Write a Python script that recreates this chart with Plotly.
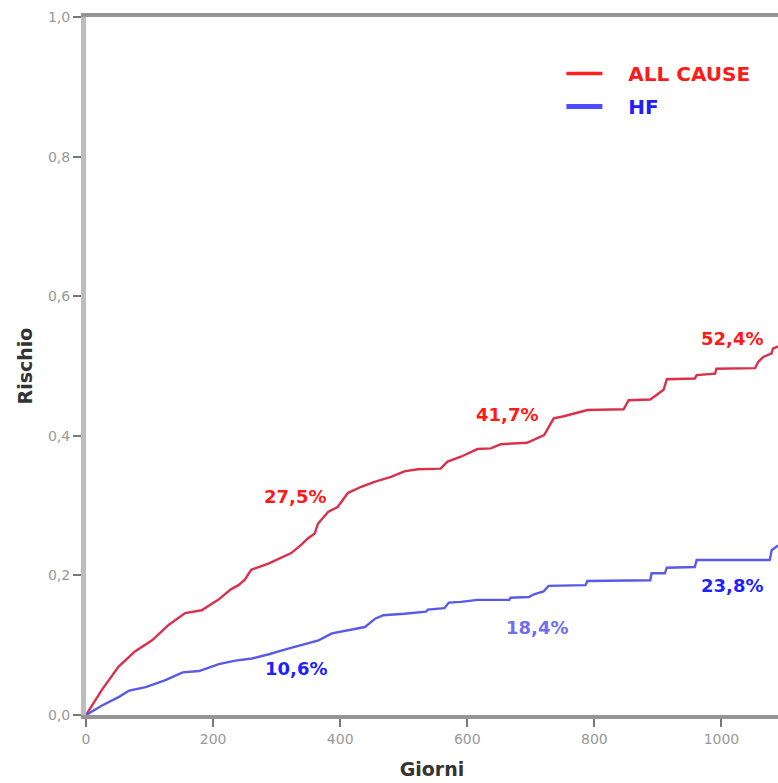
import plotly.graph_objects as go

# ---- data ----
all_days = [0, 25, 51, 77, 104, 130, 156, 182, 208, 228, 240, 250, 260, 287, 323, 339, 349, 360, 365, 381, 396,
            412, 433, 454, 480, 501, 522, 558, 569, 590, 616, 637, 653, 694, 721, 736, 752, 789, 846,
            854, 888, 909, 914, 958, 961, 990, 992, 1053, 1058, 1066, 1079, 1081, 1089]
all_risk = [0, 0.036, 0.069, 0.091, 0.107, 0.129, 0.146, 0.150, 0.165, 0.180, 0.186, 0.194, 0.208, 0.217, 0.232,
            0.244, 0.253, 0.260, 0.274, 0.291, 0.298, 0.318, 0.327, 0.334, 0.341, 0.349, 0.352, 0.353,
            0.363, 0.370, 0.381, 0.382, 0.388, 0.390, 0.401, 0.425, 0.428, 0.437, 0.438, 0.451, 0.452,
            0.466, 0.481, 0.482, 0.487, 0.489, 0.496, 0.497, 0.506, 0.513, 0.518, 0.525, 0.528]

hf_days = [0, 26, 52, 68, 94, 125, 152, 178, 209, 235, 261, 288, 314, 340, 366, 387, 418, 439, 455,
           468, 501, 535, 538, 564, 571, 590, 616, 666, 668, 697, 705, 720, 728, 786, 789, 888, 890,
           911, 914, 958, 961, 1076, 1079, 1089]
hf_risk = [0, 0.014, 0.026, 0.035, 0.040, 0.050, 0.061, 0.063, 0.073, 0.078, 0.081, 0.087, 0.094,
           0.100, 0.107, 0.117, 0.122, 0.126, 0.138, 0.143, 0.145, 0.148, 0.151, 0.153, 0.161, 0.162,
           0.165, 0.165, 0.168, 0.169, 0.173, 0.177, 0.185, 0.186, 0.192, 0.193, 0.203, 0.203, 0.211,
           0.212, 0.222, 0.222, 0.236, 0.243]

series_names = ["ALL CAUSE", "HF"]

label_texts = ["27,5%", "41,7%", "52,4%", "10,6%", "18,4%", "23,8%"]
label_x = [329, 662, 1016, 331, 709, 1017]
label_y = [0.313, 0.430, 0.540, 0.066, 0.126, 0.185]
label_colors = ["#ff1a1a", "#ff1a1a", "#ff1a1a", "#1f1fff", "#6f6ff2", "#1f1fff"]

x_ticks = [0, 200, 400, 600, 800, 1000]
y_ticks = [0.0, 0.2, 0.4, 0.6, 0.8, 1.0]

RED = "#d9304c"
BLUE = "#5a5ae8"
PAD = "&nbsp;&nbsp;&nbsp;"

fig = go.Figure()
fig.add_trace(go.Scatter(x=all_days, y=all_risk, mode="lines",
                         line=dict(color=RED, width=2.4), showlegend=False))
fig.add_trace(go.Scatter(x=hf_days, y=hf_risk, mode="lines",
                         line=dict(color=BLUE, width=2.4), showlegend=False))
# legend entries (legend glyph styling only)
fig.add_trace(go.Scatter(x=[None], y=[None], mode="lines",
                         line=dict(color="#ff2020", width=3.5),
                         name=PAD + "<span style='color:#ff1a1a'>" + series_names[0] + "</span>",
                         legendgroup="a"))
fig.add_trace(go.Scatter(x=[None], y=[None], mode="lines",
                         line=dict(color="#4d4dff", width=5),
                         name=PAD + "<span style='color:#2020ff'>" + series_names[1] + "</span>",
                         legendgroup="b"))

for t, x, y, c in zip(label_texts, label_x, label_y, label_colors):
    fig.add_annotation(x=x, y=y, text="<b>" + t + "</b>", showarrow=False,
                       font=dict(family="DejaVu Sans", size=18, color=c))

fig.update_layout(
    width=778, height=783,
    margin=dict(l=86, r=0, t=17, b=68),
    plot_bgcolor="white", paper_bgcolor="white",
    separators=",.",
    showlegend=True,
    legend=dict(x=0.687, y=0.947, xanchor="left", yanchor="top",
                font=dict(family="DejaVu Sans", size=20, weight="bold"),
                itemwidth=36, tracegroupgap=4, bgcolor="rgba(0,0,0,0)"),
    xaxis=dict(range=[0, 1089], tickvals=x_ticks, tickformat="d",
               showgrid=False, zeroline=False,
               showline=True, linecolor="#959595", linewidth=4, mirror=True,
               ticks="outside", ticklen=8, tickwidth=2, tickcolor="#777",
               tickfont=dict(family="DejaVu Sans", size=14, color="#999"),
               title=dict(text="<b>Giorni</b>", standoff=18,
                          font=dict(family="DejaVu Sans", size=19, color="#333"))),
    yaxis=dict(range=[0, 1.0], tickvals=y_ticks, tickformat=".1f",
               showgrid=False, zeroline=False,
               showline=True, linecolor="#bdbdbd", linewidth=5,
               ticks="outside", ticklen=8, tickwidth=2, tickcolor="#777",
               tickfont=dict(family="DejaVu Sans", size=14, color="#999"),
               title=dict(text="<b>Rischio</b>", standoff=12,
                          font=dict(family="DejaVu Sans", size=19, color="#333"))),
)

fig.write_html("out.html")
